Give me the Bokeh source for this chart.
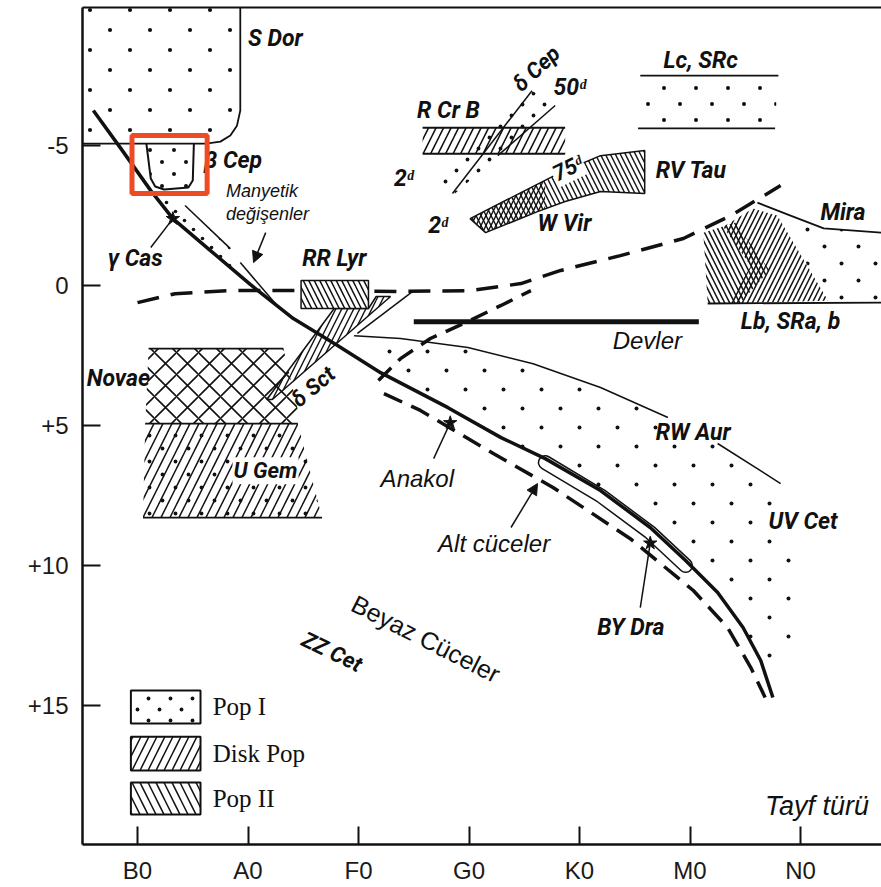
from urllib.parse import quote
from bokeh.plotting import figure
from bokeh.models import (Range1d, FixedTicker, LinearAxis, Label, Arrow, NormalHead,
                          ImageURLTexture)
from bokeh.core.properties import value
from bokeh.embed import file_html
from bokeh.resources import INLINE

NAN = float("nan")

# ---- axes: spectral class index (B0 = 0 ... N0 = 6) and absolute magnitude
spec_ticks = [0, 1, 2, 3, 4, 5, 6]
spec_names = ["B0", "A0", "F0", "G0", "K0", "M0", "N0"]
mv_ticks = [-5, 0, 5, 10, 15]
mv_names = ["-5", "0", "+5", "+10", "+15"]

# ---- main sequence (Anakol)
ms_sp = [-0.40, -0.15, 0.12, 0.32, 0.66, 1.02, 1.41, 1.81, 2.20, 2.81, 3.29, 3.69,
         4.19, 4.64, 4.96, 5.25, 5.48, 5.64, 5.75]
ms_mv = [-6.25, -4.89, -3.39, -2.39, -1.25, -0.04, 1.18, 2.14, 3.11, 4.36, 5.43, 6.18,
         7.32, 8.64, 9.82, 10.96, 12.21, 13.39, 14.71]

# ---- subdwarfs (Alt cüceler), dashed
sd_sp = [2.23, 2.56, 3.22, 3.76, 4.46, 5.03, 5.34, 5.55, 5.68]
sd_mv = [3.86, 4.46, 6.00, 7.21, 9.04, 10.89, 12.21, 13.64, 14.71]

# ---- horizontal branch / AGB boundary, dashed
hb_sp = [0.00, 0.34, 0.84, 1.48, 2.38, 3.01, 3.47, 3.83, 4.37, 4.94, 5.37, 5.82]
hb_mv = [0.61, 0.29, 0.18, 0.18, 0.21, 0.18, -0.07, -0.54, -1.07, -1.68, -2.50, -3.57]

# ---- giant branch of old clusters, dashed
gb_sp = [2.18, 2.38, 2.65, 2.97, 3.29, 3.56]
gb_mv = [3.39, 2.61, 1.89, 1.32, 0.71, 0.18]

# ---- giants (Devler)
giant_sp = [2.50, 5.08]
giant_mv = [1.29, 1.29]

# ---- upper edge of the young-star zone (RW Aur / UV Cet)
rw_sp = [1.96, 2.38, 2.99, 3.58, 4.19, 4.80, NAN, 5.25, 5.82]
rw_mv = [1.79, 1.89, 2.21, 2.79, 3.64, 4.71, NAN, 5.64, 7.07]
flare_edge_sp = [6.00, 5.93, 5.77]
flare_edge_mv = [9.82, 12.68, 14.71]

# ---- S Dor
sdor_sp = [-0.47, 0.93, 0.93, 0.90, 0.84, 0.75, 0.62, -0.50]
sdor_mv = [-9.93, -9.93, -6.25, -5.71, -5.36, -5.14, -5.07, -5.07]

# ---- beta Cep
bcep_sp = [0.08, 0.12, 0.16, 0.24, 0.46, 0.50, 0.51]
bcep_mv = [-5.07, -3.82, -3.54, -3.43, -3.50, -3.75, -5.07]

# ---- magnetic variables strip
ap_sp = [0.12, 0.43, 0.84, 0.93, 1.27, 1.02, 0.66, 0.32]
ap_mv = [-3.39, -2.86, -1.32, -0.82, 0.75, -0.04, -1.25, -2.39]

# ---- RR Lyr box (left, right, top, bottom)
rrlyr_box = [1.48, 2.09, -0.18, 0.82]

# ---- delta Sct strip
dsct_sp = [1.17, 1.78, 2.09, 2.16, 2.29, 1.22]
dsct_mv = [4.07, 0.82, 0.82, 0.39, 0.39, 4.07]
strip_edge_sp = [1.99, 2.50]
strip_edge_mv = [1.71, 0.18]

# ---- novae and U Gem
novae_sp = [0.10, 1.32, 1.48, 0.07]
novae_mv = [2.25, 2.25, 4.93, 4.93]
ugem_sp = [0.07, 1.45, 1.67, 0.05]
ugem_mv = [4.93, 4.93, 8.29, 8.29]

# ---- R CrB box (left, right, top, bottom)
rcrb_box = [2.58, 3.87, -5.64, -4.71]

# ---- delta Cep strip
dcep_a_sp, dcep_a_mv = [2.85, 3.57], [-3.29, -6.96]
dcep_b_sp, dcep_b_mv = [3.26, 3.78], [-4.64, -6.43]
dcep_sp = [2.71, 2.85, 3.78, 3.57]
dcep_mv = [-3.64, -3.21, -6.43, -6.96]

# ---- W Vir band with RV Tau at its bright end
wvir_sp = [3.01, 3.47, 3.83, 4.19, 4.59, 4.59, 4.19, 3.87, 3.62, 3.15]
wvir_mv = [-2.39, -3.32, -4.04, -4.64, -4.82, -3.29, -3.36, -3.00, -2.64, -1.89]
wvir_x_sp = [3.01, 3.47, 3.69, 3.69, 3.62, 3.15]
wvir_x_mv = [-2.39, -3.32, -3.75, -2.75, -2.64, -1.89]

# ---- Lc, SRc
lc_top_sp, lc_top_mv = [4.55, 5.80], [-7.50, -7.50]
lc_bot_sp, lc_bot_mv = [4.53, 5.77], [-5.61, -5.61]
lc_box = [4.55, 5.78, -7.35, -5.75]

# ---- Mira / Lb, SRa, b
mira_sp = [5.61, 5.91, 6.21, 6.73]
mira_mv = [-2.96, -2.50, -2.04, -1.89]
lb_sp = [5.16, 6.73]
lb_mv = [0.64, 0.61]
mira_dots_sp = [5.61, 5.91, 6.21, 6.73, 6.73, 6.27, 5.79]
mira_dots_mv = [-2.96, -2.50, -2.04, -1.89, 0.61, 0.61, -2.50]
lb2_sp = [5.12, 5.41, 5.72, 5.45, 5.16]
lb2_mv = [-1.89, -2.25, -0.54, 0.64, 0.64]
lbd_sp = [5.30, 5.57, 5.79, 6.25, 5.35, 5.55]
lbd_mv = [-2.10, -2.75, -2.50, 0.54, 0.64, -0.70]

# ---- BY Dra zone
bydra_sp = [3.69, 4.19, 4.64, 4.96]
bydra_mv = [6.32, 7.50, 8.82, 10.00]

# ---- marked stars: gamma Cas, main sequence, BY Dra
star_sp = [0.32, 2.83, 4.64]
star_mv = [-2.39, 4.90, 9.20]

# ---- highlighted beta Cep box (left, right, top, bottom)
hl_box = [-0.05, 0.63, -5.36, -3.29]

# ---- legend boxes
leg_x = [-0.06, 0.57]
leg_rows = [(14.46, 15.64), (16.11, 17.32), (17.75, 18.89)]
leg_names = ["Pop I", "Disk Pop", "Pop II"]
leg_text_y = [15.04, 16.71, 18.32]

INK = "#111111"
HAND = value("Roboto")
SANS = value("Liberation Sans")
SERIF = value("Liberation Serif")


def dot_tile(tile, r):
    """Staggered dot texture (two dots per square tile)."""
    a, b = tile * 0.25, tile * 0.75
    svg = (f'<svg xmlns="http://www.w3.org/2000/svg" width="{tile}" height="{tile}">'
           f'<circle cx="{a}" cy="{a}" r="{r}" fill="#111"/>'
           f'<circle cx="{b}" cy="{b}" r="{r}" fill="#111"/></svg>')
    return ImageURLTexture(url="data:image/svg+xml;utf8," + quote(svg), repetition="repeat")


p = figure(width=881, height=887, x_range=Range1d(-0.498, 6.733),
           y_range=Range1d(19.96, -9.93), output_backend="svg", toolbar_location=None,
           min_border_left=82, min_border_right=0, min_border_top=7, min_border_bottom=43)
p.grid.visible = False
p.outline_line_color = None
p.background_fill_color = "white"
p.border_fill_color = "white"

for ax in (p.xaxis[0], p.yaxis[0]):
    ax.axis_line_width = 2.5
    ax.axis_line_color = INK
    ax.major_tick_in = 18
    ax.major_tick_out = 0
    ax.major_tick_line_width = 2
    ax.major_tick_line_color = INK
    ax.minor_tick_in = 0
    ax.minor_tick_out = 0
    ax.major_label_text_font = "Liberation Sans"
    ax.major_label_text_font_size = "24px"
    ax.major_label_text_color = "#1a1a1a"

p.xaxis.ticker = FixedTicker(ticks=spec_ticks)
p.xaxis.major_label_overrides = dict(zip(spec_ticks, spec_names))
p.xaxis.major_label_standoff = 12
p.yaxis.ticker = FixedTicker(ticks=mv_ticks)
p.yaxis.major_label_overrides = dict(zip(mv_ticks, mv_names))
p.yaxis.major_label_standoff = 14

top = LinearAxis(ticker=FixedTicker(ticks=[]), major_tick_in=0, major_tick_out=0,
                 minor_tick_in=0, minor_tick_out=0, major_label_text_font_size="0px",
                 major_label_standoff=0, axis_line_width=2, axis_line_color=INK)
p.add_layout(top, "above")


def region(xs, ys, pattern, scale=14, weight=1.3, line=None, fill=None):
    kw = dict(fill_color=fill, line_color=line, line_width=1.5,
              hatch_color=INK, hatch_scale=scale, hatch_weight=weight)
    if fill is None:
        kw["fill_alpha"] = 0
    if pattern == "dots":
        kw.update(hatch_pattern="dots", hatch_extra={"dots": dot_tile(scale, weight)})
    else:
        kw.update(hatch_pattern=pattern)
    p.patch(xs, ys, **kw)


def box(b, pattern, scale=14, weight=1.3, line=None, fill=None):
    l, r, t, btm = b
    region([l, r, r, l], [t, t, btm, btm], pattern, scale, weight, line, fill)


def thin(xs, ys, w=1.5):
    p.line(xs, ys, line_color=INK, line_width=w)


# young-star zone between the main sequence and the RW Aur edge
rw_clean_sp = [v for v in rw_sp if v == v]
rw_clean_mv = [v for v in rw_mv if v == v]
ms_tail = [(x, y) for x, y in zip(ms_sp, ms_mv) if x >= 2.2][::-1]
flare_sp = rw_clean_sp + flare_edge_sp + [x for x, _ in ms_tail] + [1.96]
flare_mv = rw_clean_mv + flare_edge_mv + [y for _, y in ms_tail] + [2.61]
region(flare_sp, flare_mv, "dots", scale=38, weight=2.0)
thin(rw_sp, rw_mv)

# S Dor and beta Cep
region(sdor_sp, sdor_mv, "dots", scale=40, weight=2.1)
thin(sdor_sp[1:], sdor_mv[1:], 1.8)
region(bcep_sp, bcep_mv, "dots", scale=24, weight=2.0)
thin(bcep_sp, bcep_mv, 2)

# magnetic variables
region(ap_sp, ap_mv, "dots", scale=18, weight=1.8)
thin(ap_sp[1:3], ap_mv[1:3])
thin(ap_sp[3:5], ap_mv[3:5])

# novae and dwarf novae
region(novae_sp, novae_mv, "x", scale=22, weight=1.6)
region(ugem_sp, ugem_mv, "/", scale=18, weight=1.5)
region(ugem_sp, ugem_mv, "dots", scale=26, weight=1.9)
thin(novae_sp[:2], novae_mv[:2], 1.8)
thin([ugem_sp[0], ugem_sp[1]], [ugem_mv[0], ugem_mv[1]], 1.8)
thin([ugem_sp[3], ugem_sp[2]], [ugem_mv[3], ugem_mv[2]], 1.8)

# delta Sct strip
region(dsct_sp, dsct_mv, "/", scale=12, weight=1.4, line=INK)
thin(strip_edge_sp, strip_edge_mv)

# R CrB
box(rcrb_box, "/", scale=15, weight=1.6)
thin([rcrb_box[0], rcrb_box[1]], [rcrb_box[2], rcrb_box[2]], 2)
thin([rcrb_box[0], rcrb_box[1]], [rcrb_box[3], rcrb_box[3]], 2)

# delta Cep strip
region(dcep_sp, dcep_mv, "dots", scale=22, weight=1.9)
thin(dcep_a_sp, dcep_a_mv)
thin(dcep_b_sp, dcep_b_mv)

# W Vir and RV Tau
region(wvir_sp, wvir_mv, "\\", scale=10, weight=1.4, line=INK)
region(wvir_x_sp, wvir_x_mv, "/", scale=10, weight=1.4)

# Lc, SRc
box(lc_box, "dots", scale=32, weight=2.0)
thin(lc_top_sp, lc_top_mv, 1.8)
thin(lc_bot_sp, lc_bot_mv, 1.8)

# Mira and Lb, SRa, b
region(mira_dots_sp, mira_dots_mv, "dots", scale=34, weight=2.0)
region(lb2_sp, lb2_mv, "\\", scale=10, weight=1.5)
region(lbd_sp, lbd_mv, "/", scale=10, weight=1.5)
thin(mira_sp, mira_mv, 1.8)
thin(lb_sp, lb_mv, 1.8)

# BY Dra zone
p.line(bydra_sp, bydra_mv, line_color=INK, line_width=15, line_cap="round")
p.line(bydra_sp, bydra_mv, line_color="white", line_width=12, line_cap="round")

# sequences
p.line(ms_sp, ms_mv, line_color=INK, line_width=3.5)
p.line(sd_sp, sd_mv, line_color=INK, line_width=3.5, line_dash="20 10")
p.line(hb_sp, hb_mv, line_color=INK, line_width=3.5, line_dash="22 12")
p.line(gb_sp, gb_mv, line_color=INK, line_width=3.5, line_dash="18 10")
p.line(giant_sp, giant_mv, line_color=INK, line_width=5)

# RR Lyr box sits on top of the horizontal-branch line
box(rrlyr_box, "\\", scale=11, weight=1.5, line=INK, fill="white")

p.scatter(star_sp, star_mv, marker="star", size=14, fill_color=INK, line_color=INK)

# pointers
thin([0.12, star_sp[0]], [-1.36, star_mv[0]])
thin([2.68, star_sp[1]], [6.18, star_mv[1]])
thin([4.55, star_sp[2]], [11.50, star_mv[2]])
for (xs, ys, xe, ye) in [(1.16, -1.89, 1.05, -0.82), (3.38, 8.64, 3.62, 7.07)]:
    p.add_layout(Arrow(x_start=xs, y_start=ys, x_end=xe, y_end=ye, line_width=1.5,
                       line_color=INK,
                       end=NormalHead(size=11, fill_color=INK, line_color=INK)))

# labels of variable types
bi_text = ["S Dor", "β Cep", "γ Cas", "RR Lyr", "Novae", "R Cr B", "RV Tau",
           "Lc, SRc", "Mira", "Lb, SRa, b", "RW Aur", "UV Cet", "BY Dra", "W Vir",
           "50ᵈ", "2ᵈ", "2ᵈ"]
bi_x = [1.00, 0.60, -0.27, 1.49, -0.46, 2.53, 4.69, 4.76, 6.18, 5.46, 4.69,
        5.71, 4.16, 3.62, 3.765, 2.32, 2.63]
bi_y = [-8.82, -4.46, -0.96, -0.96, 3.32, -6.25, -4.11, -8.04, -2.61, 1.29, 5.25,
        8.43, 12.21, -2.21, -7.07, -3.82, -2.14]
p.text(bi_x, bi_y, text=bi_text, text_font=HAND, text_font_style="bold italic",
       text_font_size="23px", text_align="left", text_baseline="middle", text_color=INK)

# labels sitting inside hatched areas get a white backing
p.text([0.86, 3.76], [6.61, -3.93], text=["U Gem", "75ᵈ"], angle=[0.0, 0.45],
       text_font=HAND, text_font_style="bold italic", text_font_size="22px",
       text_align="left", text_baseline="middle", text_color=INK,
       background_fill_color="white", padding=1)

rot_text = ["δ Sct", "δ Cep", "ZZ Cet"]
rot_x = [1.59, 3.61, 1.76]
rot_y = [3.61, -7.75, 13.08]
rot_a = [0.70, 0.75, -0.45]
p.text(rot_x, rot_y, text=rot_text, angle=rot_a, text_font=HAND,
       text_font_style="bold italic", text_font_size="22px", text_align="center",
       text_baseline="middle", text_color=INK)

it_text = ["Devler", "Anakol", "Alt cüceler"]
it_x = [4.30, 2.20, 2.72]
it_y = [1.96, 6.89, 9.21]
p.text(it_x, it_y, text=it_text, text_font=SANS, text_font_style="italic",
       text_font_size="24px", text_align="left", text_baseline="middle", text_color=INK)

p.text([0.80, 0.80], [-3.39, -2.54], text=["Manyetik", "değişenler"], text_font=SANS,
       text_font_style="italic", text_font_size="18px", text_align="left",
       text_baseline="middle", text_color=INK)

p.text([2.61], [12.61], text=["Beyaz Cüceler"], angle=-0.47, text_font=SANS,
       text_font_size="25px", text_align="center", text_baseline="middle", text_color=INK)

p.text([6.62], [18.57], text=["Tayf türü"], text_font=SANS, text_font_style="italic",
       text_font_size="27px", text_align="right", text_baseline="middle", text_color=INK)

# legend
leg_pat = ["dots", "/", "\\"]
leg_scale = [22, 16, 16]
for (bt, bb), pat, sc in zip(leg_rows, leg_pat, leg_scale):
    box([leg_x[0], leg_x[1], bt, bb], pat, sc, 1.9 if pat == "dots" else 1.5)
    p.quad(left=leg_x[0], right=leg_x[1], top=bt, bottom=bb, fill_alpha=0,
           line_color=INK, line_width=2)
p.text([0.68] * 3, leg_text_y, text=leg_names, text_font=SERIF, text_font_size="25px",
       text_align="left", text_baseline="middle", text_color=INK)

# highlighted beta Cep box
l, r, t, b = hl_box
p.quad(left=l, right=r, top=t, bottom=b, fill_alpha=0, line_color="#ee4a24",
       line_width=5)

# axis title M_V
p.add_layout(Label(x=-1.08, y=-9.04, text="M", text_font="Liberation Sans",
                   text_font_style="italic", text_font_size="28px", text_color=INK,
                   text_baseline="alphabetic"))
p.add_layout(Label(x=-0.79, y=-8.62, text="V", text_font="Liberation Sans",
                   text_font_style="italic", text_font_size="22px", text_color=INK,
                   text_baseline="alphabetic"))

open("out.html", "w").write(file_html(p, INLINE))
